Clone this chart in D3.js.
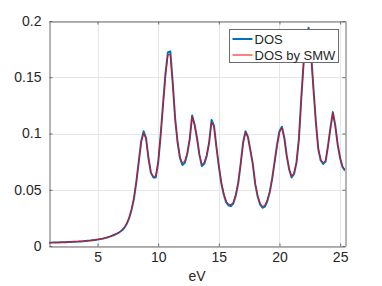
<!DOCTYPE html>
<html>
<head>
<meta charset="utf-8">
<script src="https://cdn.jsdelivr.net/npm/d3@7"></script>
<style>
  body { margin: 0; background: #fff; }
  text { font-family: "Liberation Sans", Arial, Helvetica, sans-serif; fill: #262626; }
</style>
</head>
<body>
<script>
(function() {
  var energies, dos, dosSmw, xTicks, yTicks, yTickLabels, seriesNames, seriesColors;

  energies = [
    1.0, 1.2, 1.4, 1.6, 1.8, 2.0, 2.2, 2.4, 2.6, 2.8,
    3.0, 3.2, 3.4, 3.6, 3.8, 4.0, 4.2, 4.4, 4.6, 4.8,
    5.0, 5.2, 5.4, 5.6, 5.8, 6.0, 6.2, 6.4, 6.6, 6.8,
    7.0, 7.2, 7.4, 7.6, 7.8, 8.0, 8.2, 8.4, 8.6, 8.8,
    9.0, 9.2, 9.4, 9.6, 9.8, 10.0, 10.2, 10.4, 10.6, 10.8,
    11.0, 11.2, 11.4, 11.6, 11.8, 12.0, 12.2, 12.4, 12.6, 12.8,
    13.0, 13.2, 13.4, 13.6, 13.8, 14.0, 14.2, 14.4, 14.6, 14.8,
    15.0, 15.2, 15.4, 15.6, 15.8, 16.0, 16.2, 16.4, 16.6, 16.8,
    17.0, 17.2, 17.4, 17.6, 17.8, 18.0, 18.2, 18.4, 18.6, 18.8,
    19.0, 19.2, 19.4, 19.6, 19.8, 20.0, 20.2, 20.4, 20.6, 20.8,
    21.0, 21.2, 21.4, 21.6, 21.8, 22.0, 22.2, 22.4, 22.6, 22.8,
    23.0, 23.2, 23.4, 23.6, 23.8, 24.0, 24.2, 24.4, 24.6, 24.8,
    25.0, 25.2, 25.4
  ];

  dos = [
    0.0030, 0.0030, 0.0031, 0.0031, 0.0032, 0.0033, 0.0033, 0.0034, 0.0035, 0.0036,
    0.0037, 0.0038, 0.0039, 0.0041, 0.0042, 0.0044, 0.0046, 0.0048, 0.0051, 0.0054,
    0.0057, 0.0061, 0.0065, 0.0070, 0.0076, 0.0083, 0.0091, 0.0100, 0.0110, 0.0122,
    0.0138, 0.0160, 0.0195, 0.0245, 0.0320, 0.0420, 0.0570, 0.0750, 0.0930, 0.1020,
    0.0960, 0.0780, 0.0650, 0.0610, 0.0610, 0.0740, 0.0980, 0.1260, 0.1530, 0.1720,
    0.1730, 0.1450, 0.1130, 0.0920, 0.0780, 0.0720, 0.0740, 0.0820, 0.0950, 0.1160,
    0.1080, 0.0960, 0.0810, 0.0710, 0.0730, 0.0800, 0.0920, 0.1120, 0.1070, 0.0880,
    0.0710, 0.0560, 0.0460, 0.0390, 0.0360, 0.0355, 0.0380, 0.0450, 0.0560, 0.0730,
    0.0920, 0.1020, 0.0970, 0.0850, 0.0730, 0.0550, 0.0440, 0.0370, 0.0340, 0.0350,
    0.0400, 0.0480, 0.0600, 0.0750, 0.0900, 0.1020, 0.1060, 0.0960, 0.0800, 0.0680,
    0.0610, 0.0640, 0.0740, 0.0950, 0.1320, 0.1650, 0.1850, 0.1940, 0.1720, 0.1400,
    0.1100, 0.0860, 0.0760, 0.0730, 0.0750, 0.0890, 0.1050, 0.1190, 0.1070, 0.0900,
    0.0780, 0.0700, 0.0670
  ];

  dosSmw = [
    0.0031, 0.0031, 0.0032, 0.0032, 0.0033, 0.0034, 0.0034, 0.0035, 0.0036, 0.0037,
    0.0038, 0.0039, 0.0040, 0.0042, 0.0043, 0.0045, 0.0047, 0.0049, 0.0052, 0.0055,
    0.0058, 0.0062, 0.0066, 0.0071, 0.0077, 0.0084, 0.0092, 0.0101, 0.0111, 0.0123,
    0.0140, 0.0162, 0.0198, 0.0250, 0.0325, 0.0425, 0.0575, 0.0750, 0.0920, 0.1000,
    0.0950, 0.0780, 0.0655, 0.0620, 0.0620, 0.0745, 0.0980, 0.1250, 0.1510, 0.1700,
    0.1700, 0.1440, 0.1130, 0.0925, 0.0790, 0.0740, 0.0755, 0.0830, 0.0955, 0.1150,
    0.1075, 0.0960, 0.0815, 0.0725, 0.0745, 0.0810, 0.0920, 0.1100, 0.1060, 0.0880,
    0.0715, 0.0570, 0.0470, 0.0400, 0.0372, 0.0368, 0.0390, 0.0460, 0.0565, 0.0730,
    0.0910, 0.1010, 0.0965, 0.0850, 0.0730, 0.0555, 0.0450, 0.0380, 0.0352, 0.0362,
    0.0410, 0.0485, 0.0600, 0.0745, 0.0895, 0.1010, 0.1050, 0.0955, 0.0800, 0.0685,
    0.0620, 0.0650, 0.0745, 0.0950, 0.1310, 0.1630, 0.1820, 0.1880, 0.1690, 0.1390,
    0.1100, 0.0865, 0.0770, 0.0742, 0.0760, 0.0890, 0.1045, 0.1180, 0.1065, 0.0900,
    0.0785, 0.0710, 0.0680
  ];

  xTicks = [5, 10, 15, 20, 25];
  yTicks = [0, 0.05, 0.1, 0.15, 0.2];
  yTickLabels = ['0', '0.05', '0.1', '0.15', '0.2'];
  seriesNames = ['DOS', 'DOS by SMW'];
  seriesColors = ['#0072BD', '#FF0000'];

  var width = 382, height = 286;
  var left = 49, right = 345, top = 21, bottom = 246;

  var svg = d3.select('body').append('svg').attr('width', width).attr('height', height);

  var x = d3.scaleLinear().domain([1, 25.4]).range([left, right]);
  var y = d3.scaleLinear().domain([0, 0.2]).range([bottom, top]);

  // grid
  svg.append('g').selectAll('line').data(xTicks).enter().append('line')
    .attr('x1', function(d) { return Math.round(x(d)) + 0.5; })
    .attr('x2', function(d) { return Math.round(x(d)) + 0.5; })
    .attr('y1', top).attr('y2', bottom)
    .attr('stroke', '#e6e6e6').attr('stroke-width', 1);
  svg.append('g').selectAll('line').data(yTicks).enter().append('line')
    .attr('y1', function(d) { return Math.round(y(d)) + 0.5; })
    .attr('y2', function(d) { return Math.round(y(d)) + 0.5; })
    .attr('x1', left).attr('x2', right)
    .attr('stroke', '#e6e6e6').attr('stroke-width', 1);

  // box with inward ticks on all sides
  var clip = svg.append('clipPath').attr('id', 'plotclip').append('rect')
    .attr('x', left).attr('y', top).attr('width', right - left).attr('height', bottom - top);

  var line = d3.line()
    .x(function(d, i) { return x(energies[i]); })
    .y(function(d) { return y(d); });

  var lines = svg.append('g').attr('clip-path', 'url(#plotclip)');
  lines.append('path').datum(dos).attr('d', line)
    .attr('fill', 'none').attr('stroke', seriesColors[0]).attr('stroke-width', 2)
    .attr('stroke-linejoin', 'round');
  lines.append('path').datum(dosSmw).attr('d', line)
    .attr('fill', 'none').attr('stroke', seriesColors[1]).attr('stroke-width', 1)
    .attr('stroke-linejoin', 'round');

  var axisColor = '#6b6b6b';
  var tickLen = 3;

  svg.append('g')
    .attr('transform', 'translate(0,' + (bottom + 0.5) + ')')
    .call(d3.axisBottom(x).tickValues(xTicks).tickSizeInner(-tickLen).tickSizeOuter(0).tickPadding(6))
    .call(function(g) {
      g.select('.domain').attr('stroke', axisColor);
      g.selectAll('.tick line').attr('stroke', axisColor);
      g.selectAll('.tick text').attr('font-size', 14).attr('fill', '#262626')
        .attr('font-family', '"Liberation Sans", Arial, sans-serif');
    });
  svg.append('g')
    .attr('transform', 'translate(0,' + (top + 0.5) + ')')
    .call(d3.axisTop(x).tickValues(xTicks).tickSizeInner(-tickLen).tickSizeOuter(0).tickFormat(''))
    .call(function(g) {
      g.select('.domain').attr('stroke', axisColor);
      g.selectAll('.tick line').attr('stroke', axisColor);
    });
  svg.append('g')
    .attr('transform', 'translate(' + (left + 0.5) + ',0)')
    .call(d3.axisLeft(y).tickValues(yTicks).tickSizeInner(-tickLen).tickSizeOuter(0).tickPadding(8)
      .tickFormat(function(d, i) { return yTickLabels[i]; }))
    .call(function(g) {
      g.select('.domain').attr('stroke', axisColor);
      g.selectAll('.tick line').attr('stroke', axisColor);
      g.selectAll('.tick text').attr('font-size', 14).attr('fill', '#262626')
        .attr('font-family', '"Liberation Sans", Arial, sans-serif');
    });
  svg.append('g')
    .attr('transform', 'translate(' + (right + 0.5) + ',0)')
    .call(d3.axisRight(y).tickValues(yTicks).tickSizeInner(-tickLen).tickSizeOuter(0).tickFormat(''))
    .call(function(g) {
      g.select('.domain').attr('stroke', axisColor);
      g.selectAll('.tick line').attr('stroke', axisColor);
    });

  // x label
  svg.append('text').attr('x', (left + right) / 2).attr('y', 281)
    .attr('text-anchor', 'middle').attr('font-size', 14).text('eV');

  // legend
  var legend = svg.append('g').attr('transform', 'translate(229.5,29.5)');
  legend.append('rect').attr('width', 109).attr('height', 33)
    .attr('fill', '#fff').attr('stroke', '#6b6b6b').attr('stroke-width', 1);
  legend.selectAll('line.swatch').data(seriesNames).enter().append('line')
    .attr('class', 'swatch')
    .attr('x1', 3).attr('x2', 23)
    .attr('y1', function(d, i) { return 9.5 + i * 16; })
    .attr('y2', function(d, i) { return 9.5 + i * 16; })
    .attr('stroke', function(d, i) { return seriesColors[i]; })
    .attr('stroke-width', function(d, i) { return i === 0 ? 2 : 1; });
  legend.selectAll('text').data(seriesNames).enter().append('text')
    .attr('x', 25)
    .attr('y', function(d, i) { return 14 + i * 16; })
    .attr('font-size', 13).text(function(d) { return d; });

}).call(this);
</script>
</body>
</html>
